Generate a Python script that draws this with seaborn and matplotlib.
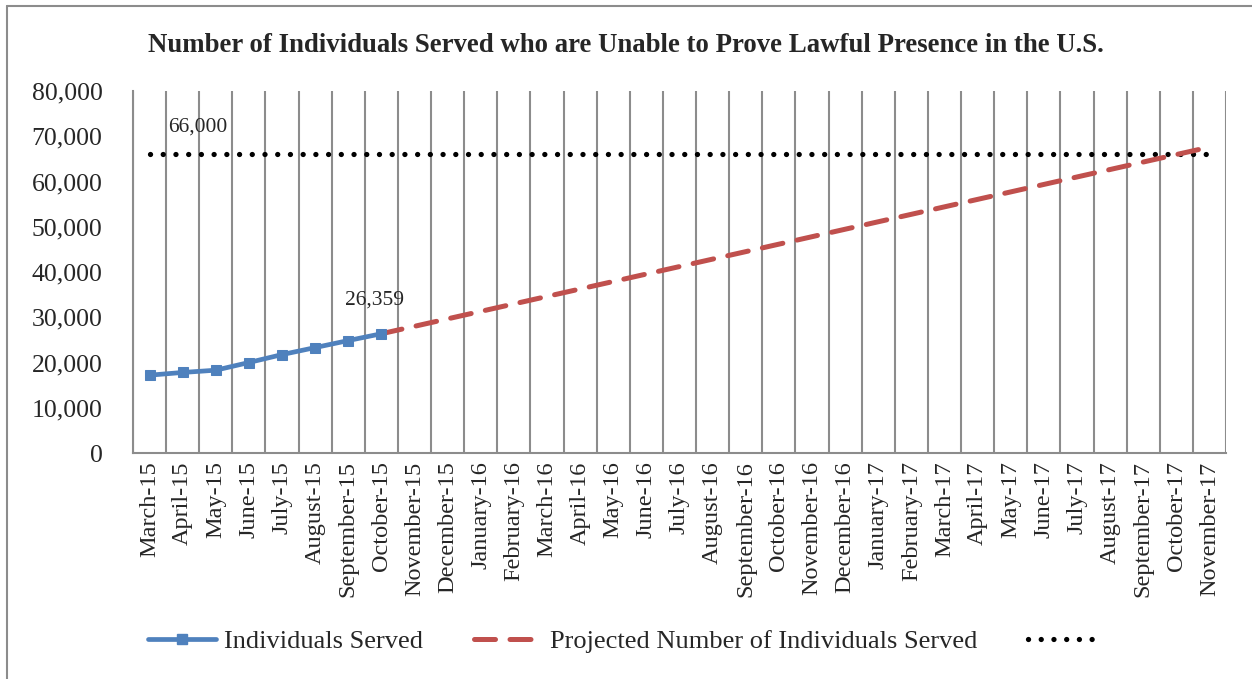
import matplotlib
matplotlib.use("Agg")
import matplotlib.pyplot as plt
import matplotlib.ticker as mticker
from matplotlib.lines import Line2D
import seaborn as sns
import pandas as pd
import numpy as np

months = ["March-15", "April-15", "May-15", "June-15", "July-15", "August-15",
          "September-15", "October-15", "November-15", "December-15", "January-16",
          "February-16", "March-16", "April-16", "May-16", "June-16", "July-16",
          "August-16", "September-16", "October-16", "November-16", "December-16",
          "January-17", "February-17", "March-17", "April-17", "May-17", "June-17",
          "July-17", "August-17", "September-17", "October-17", "November-17"]

served = [17200, 17800, 18300, 20000, 21750, 23300, 24850, 26359]

projected = [26359, 28000, 29650, 31300, 32950, 34600, 36250, 37900, 39550,
             41200, 42850, 44500, 46150, 47800, 49450, 51100, 52750, 54400,
             56050, 57700, 59350, 61000, 62650, 64300, 65950, 67600]

target = [66000] * len(months)

y_ticks = [0, 10000, 20000, 30000, 40000, 50000, 60000, 70000, 80000]

title = "Number of Individuals Served who are Unable to Prove Lawful Presence in the U.S."
label_served = "Individuals Served"
label_proj = "Projected Number of Individuals Served"

sns.set_theme(style="white")
plt.rcParams['font.family'] = ['Liberation Serif', 'DejaVu Serif']

blue = "#4F81BD"
red = "#C0504D"
grid_c = "#8C8C8C"

fig = plt.figure(figsize=(12.52, 6.79), dpi=100)
ax = fig.add_axes([133/1252, 1-453/679, (1226-133)/1252, (453-91)/679])

pos = np.arange(len(months))
df_s = pd.DataFrame({"pos": pos[:len(served)], "val": served})
df_p = pd.DataFrame({"pos": pos[len(served)-1:len(served)-1+len(projected)], "val": projected})
df_t = pd.DataFrame({"pos": pos, "val": target})

dot_style = (0, (0.01, 2.4))
dash_style = (0, (4.2, 2.9))

sns.lineplot(data=df_t, x="pos", y="val", ax=ax, color="black", linewidth=3.8)
lt = ax.lines[-1]
lt.set_linestyle(dot_style)
lt.set_dash_capstyle("round")
sns.lineplot(data=df_p, x="pos", y="val", ax=ax, color=red, linewidth=3.6)
lp = ax.lines[-1]
lp.set_linestyle(dash_style)
lp.set_dash_capstyle("round")
sns.lineplot(data=df_s, x="pos", y="val", ax=ax, color=blue, linewidth=3.4,
             marker="s", markersize=7, markeredgecolor=blue)

ax.set_xlim(-0.5, len(months) - 0.5)
ax.set_ylim(0, 80000)
ax.set_xticks(pos)
ax.set_xticklabels(months, rotation=90, fontsize=17.5)
ax.set_xticks(np.arange(-0.5, len(months), 1.0), minor=True)
ax.grid(which="minor", axis="x", color=grid_c, linewidth=1.5)
ax.grid(which="major", axis="both", visible=False)
ax.tick_params(axis="x", which="both", length=0, pad=6)
ax.set_yticks(y_ticks)
ax.yaxis.set_major_formatter(mticker.FuncFormatter(lambda v, p: f"{int(v):,}"))
ax.tick_params(axis="y", length=0, labelsize=18.5, pad=22)
ax.set_xlabel("")
ax.set_ylabel("")
for s in ["top", "right"]:
    ax.spines[s].set_visible(False)
for s in ["left", "bottom"]:
    ax.spines[s].set_color(grid_c)
    ax.spines[s].set_linewidth(1.5)

ax.text(1.45, 72100, f"{target[0]:,}", fontsize=15.5, ha="center", va="center")
ax.text(len(served) - 1.2, 33800, f"{served[-1]:,}", fontsize=15.5, ha="center", va="center")

fig.text(0.5, 1 - 45/679, title, fontsize=19.3, fontweight="bold", ha="center", va="center")

handles = [
    Line2D([], [], color=blue, linewidth=3.4, marker="s", markersize=7),
    Line2D([], [], color=red, linewidth=3.6, linestyle=dash_style, dash_capstyle="round"),
    Line2D([], [], color="black", linewidth=3.8, linestyle=dot_style, dash_capstyle="round"),
]
fig.legend(handles, [label_served, label_proj, ""], loc="center", ncol=3,
           bbox_to_anchor=(0.5, 1 - 641/679), frameon=False, fontsize=19,
           handlelength=2.6, columnspacing=1.9, handletextpad=0.3)

fig.add_artist(Line2D([7/1252, 7/1252], [0, 1 - 6/679], transform=fig.transFigure, color=grid_c, linewidth=1.5))
fig.add_artist(Line2D([7/1252, 1], [1 - 6/679, 1 - 6/679], transform=fig.transFigure, color=grid_c, linewidth=1.5))

fig.savefig("out.png", dpi=100)
